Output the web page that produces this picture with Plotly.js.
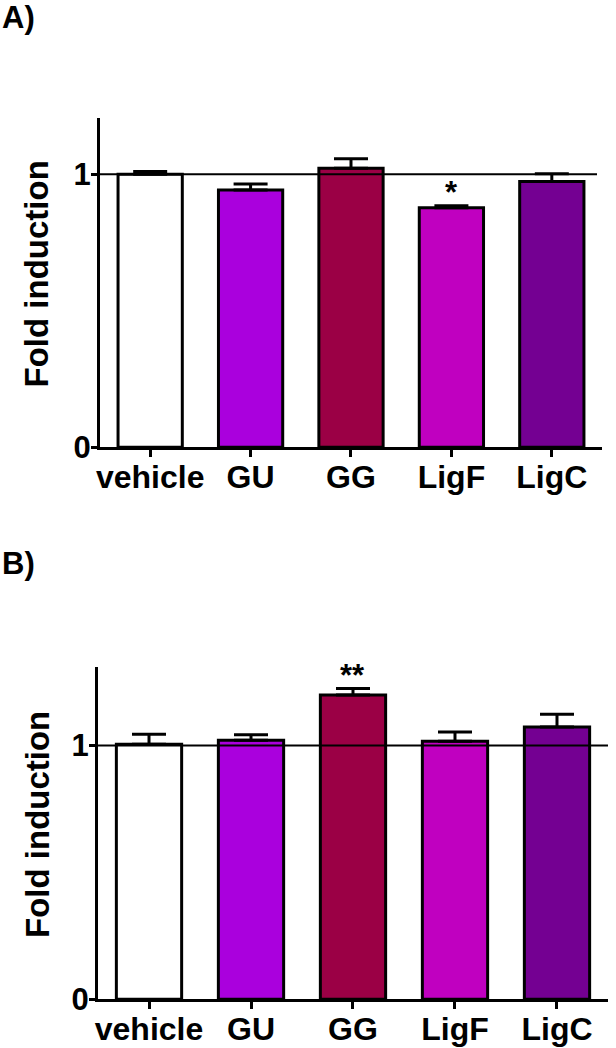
<!DOCTYPE html>
<html>
<head>
<meta charset="utf-8">
<script src="https://cdn.plot.ly/plotly-3.0.1.min.js"></script>
<style>html,body{margin:0;padding:0;background:#fff;}#chart{width:616px;height:1048px;}</style>
</head>
<body>
<div id="chart"></div>
<script>
// ---- data ----
var categories = ['vehicle', 'GU', 'GG', 'LigF', 'LigC'];
var meanA = [1.00, 0.942, 1.022, 0.877, 0.973];
var errA  = [0.010, 0.022, 0.035, 0.008, 0.029];
var sigA  = ['', '', '', '*', ''];
var meanB = [1.005, 1.021, 1.200, 1.017, 1.073];
var errB  = [0.040, 0.022, 0.025, 0.037, 0.051];
var sigB  = ['', '', '**', '', ''];
var barColors = ['#FFFFFF', '#AA00DD', '#9B0045', '#C000C0', '#740092'];
var panelLabels = ['A)', 'B)'];
var yTitle = 'Fold induction';
var yTickVals = [0, 1];
var refLine = 1;

var FONT = 'Liberation Sans, Arial, sans-serif';

function barTrace(means, errs, xa, ya) {
  return {
    type: 'bar', x: categories, y: means, xaxis: xa, yaxis: ya,
    width: 0.64,
    marker: {color: barColors, line: {color: '#000', width: 3}},
    error_y: {type: 'data', array: errs, arrayminus: errs.map(function(){return 0;}),
              symmetric: false, color: '#000', thickness: 3, width: 17},
    hoverinfo: 'none', showlegend: false
  };
}

var data = [barTrace(meanA, errA, 'x', 'y'), barTrace(meanB, errB, 'x2', 'y2')];

function xAxis(domain, anchor) {
  return {domain: domain, anchor: anchor, type: 'category', range: [-0.5, 4.5],
    showline: true, linecolor: '#000', linewidth: 3, ticks: 'outside', ticklen: 7,
    tickwidth: 3, tickcolor: '#000', showgrid: false, zeroline: false,
    ticklabelstandoff: -8,
    tickfont: {family: FONT, size: 32, color: '#000', weight: 'bold'}};
}
function yAxis(domain, anchor, top) {
  return {domain: domain, anchor: anchor, range: [0, top], tickvals: yTickVals,
    showline: true, linecolor: '#000', linewidth: 3, ticks: 'outside', ticklen: 6,
    tickwidth: 3, tickcolor: '#000', showgrid: false, zeroline: false,
    ticklabelstandoff: -6,
    tickfont: {family: FONT, size: 31, color: '#000', weight: 'bold'}};
}

var annotations = [];
function addSig(sig, means, errs, xa, ya) {
  sig.forEach(function(s, i) {
    if (!s) return;
    annotations.push({xref: xa, yref: ya, x: categories[i], y: means[i] + errs[i],
      yanchor: 'bottom', text: s, showarrow: false, yshift: -6,
      font: {family: FONT, size: 31, color: '#000', weight: 'bold'}});
  });
}
addSig(sigA, meanA, errA, 'x', 'y');
addSig(sigB, meanB, errB, 'x2', 'y2');

annotations.push({xref: 'paper', yref: 'paper', x: 0.0, y: 1.0, xanchor: 'left', yanchor: 'top',
  text: panelLabels[0], showarrow: false, yshift: 2, font: {family: FONT, size: 31, color: '#000', weight: 'bold'}});
annotations.push({xref: 'paper', yref: 'paper', x: 0.0, y: 0.4627, xanchor: 'left', yanchor: 'middle',
  text: panelLabels[1], showarrow: false, font: {family: FONT, size: 31, color: '#000', weight: 'bold'}});
annotations.push({xref: 'paper', yref: 'paper', x: 0.06, y: 0.739, xanchor: 'center', yanchor: 'middle',
  text: yTitle, textangle: -90, showarrow: false, font: {family: FONT, size: 33, color: '#000', weight: 'bold'}});
annotations.push({xref: 'paper', yref: 'paper', x: 0.06, y: 0.2137, xanchor: 'center', yanchor: 'middle',
  text: yTitle, textangle: -90, showarrow: false, font: {family: FONT, size: 33, color: '#000', weight: 'bold'}});

var layout = {
  width: 616, height: 1048,
  margin: {l: 0, r: 0, t: 0, b: 0},
  paper_bgcolor: '#fff', plot_bgcolor: '#fff',
  bargap: 0.36,
  xaxis: xAxis([0.1623, 0.9773], 'y'),
  yaxis: yAxis([0.5732, 0.8874], 'x', 1.206),
  xaxis2: xAxis([0.1591, 0.987], 'y2'),
  yaxis2: yAxis([0.0465, 0.3638], 'x2', 1.311),
  shapes: [
    {type: 'line', xref: 'x domain', yref: 'y', x0: 0, x1: 0.99, y0: refLine, y1: refLine, line: {color: '#000', width: 2}},
    {type: 'line', xref: 'x2 domain', yref: 'y2', x0: 0, x1: 1, y0: refLine, y1: refLine, line: {color: '#000', width: 2}}
  ],
  annotations: annotations
};

Plotly.newPlot('chart', data, layout, {staticPlot: true, displayModeBar: false});
</script>
</body>
</html>
